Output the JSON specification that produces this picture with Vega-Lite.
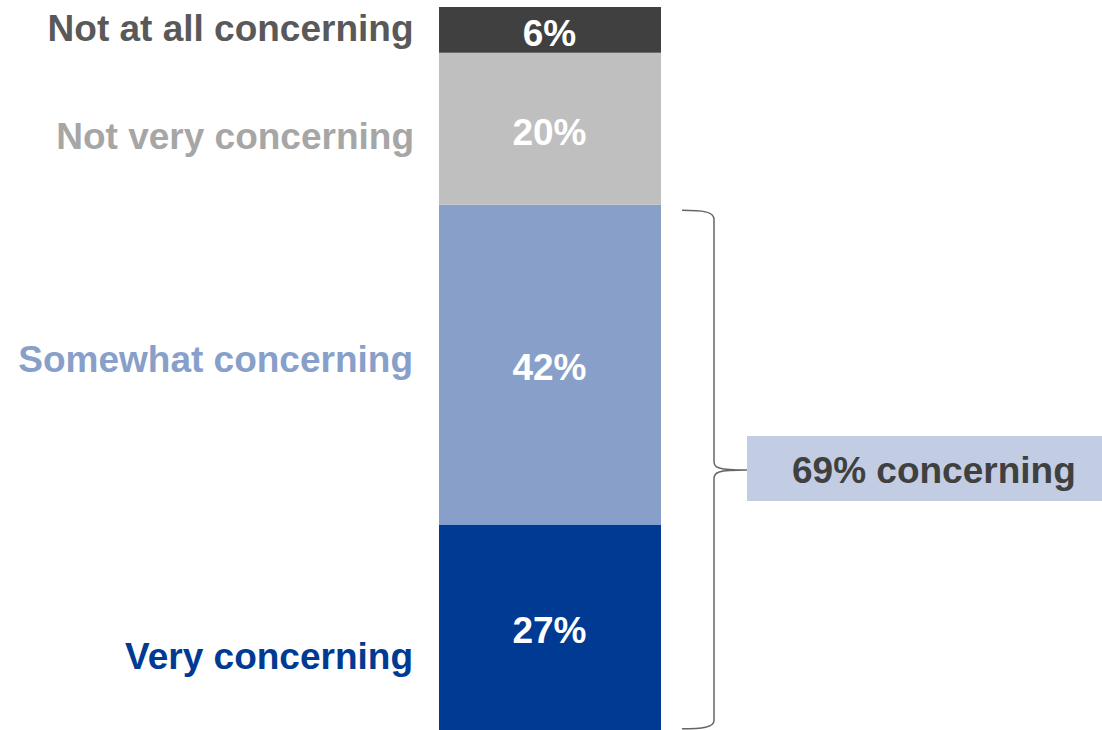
{
  "$schema": "https://vega.github.io/schema/vega-lite/v6.json",
  "width": 1102,
  "height": 730,
  "padding": 0,
  "autosize": {"type": "none"},
  "background": "white",
  "config": {"view": {"stroke": null}, "font": "Liberation Sans"},
  "datasets": {
    "responses": [
      {"category": "Very concerning", "pct": 0.27, "rank": 1},
      {"category": "Somewhat concerning", "pct": 0.42, "rank": 2},
      {"category": "Not very concerning", "pct": 0.20, "rank": 3},
      {"category": "Not at all concerning", "pct": 0.06, "rank": 4}
    ],
    "summary": [
      {"label": "69% concerning", "total": 0.69}
    ]
  },
  "layer": [
    {
      "data": {"name": "responses"},
      "transform": [
        {"stack": "pct", "groupby": [], "sort": [{"field": "rank", "order": "ascending"}], "as": ["y0", "y1"]},
        {"calculate": "(datum.y0 + datum.y1) / 2", "as": "mid"}
      ],
      "layer": [
        {
          "mark": {"type": "bar", "width": 222, "xOffset": -1},
          "encoding": {
            "x": {"datum": "All", "type": "nominal", "scale": {"domain": ["All"]}, "axis": null},
            "y": {"field": "y0", "type": "quantitative", "scale": {"domain": [0, 0.9592], "nice": false, "zero": true}, "axis": null},
            "y2": {"field": "y1"},
            "color": {
              "field": "category", "type": "nominal", "legend": null,
              "scale": {
                "domain": ["Very concerning", "Somewhat concerning", "Not very concerning", "Not at all concerning"],
                "range": ["#003a92", "#88a0c9", "#bfbfbf", "#404040"]
              }
            }
          }
        },
        {
          "mark": {"type": "text", "color": "white", "fontSize": 37, "fontWeight": "bold", "align": "center", "baseline": "middle", "dx": -1.5, "dy": 4.8},
          "encoding": {
            "x": {"datum": "All", "type": "nominal"},
            "y": {"field": "mid", "type": "quantitative"},
            "text": {"field": "pct", "type": "quantitative", "format": ".0%"}
          }
        },
        {
          "transform": [{"filter": "datum.category === 'Not at all concerning'"}],
          "mark": {"type": "text", "color": "#595959", "fontSize": 37, "fontWeight": "bold", "align": "right", "baseline": "middle", "dx": -137.5, "dy": -0.3},
          "encoding": {
            "x": {"datum": "All", "type": "nominal"},
            "y": {"field": "mid", "type": "quantitative"},
            "text": {"field": "category"}
          }
        },
        {
          "transform": [{"filter": "datum.category === 'Not very concerning'"}],
          "mark": {"type": "text", "color": "#a6a6a6", "fontSize": 37, "fontWeight": "bold", "align": "right", "baseline": "middle", "dx": -137, "dy": 9.3},
          "encoding": {
            "x": {"datum": "All", "type": "nominal"},
            "y": {"field": "mid", "type": "quantitative"},
            "text": {"field": "category"}
          }
        },
        {
          "transform": [{"filter": "datum.category === 'Somewhat concerning'"}],
          "mark": {"type": "text", "color": "#88a0c9", "fontSize": 37, "fontWeight": "bold", "align": "right", "baseline": "middle", "dx": -138, "dy": -3.6},
          "encoding": {
            "x": {"datum": "All", "type": "nominal"},
            "y": {"field": "mid", "type": "quantitative"},
            "text": {"field": "category"}
          }
        },
        {
          "transform": [{"filter": "datum.category === 'Very concerning'"}],
          "mark": {"type": "text", "color": "#003a92", "fontSize": 37, "fontWeight": "bold", "align": "right", "baseline": "middle", "dx": -138, "dy": 30.8},
          "encoding": {
            "x": {"datum": "All", "type": "nominal"},
            "y": {"field": "mid", "type": "quantitative"},
            "text": {"field": "category"}
          }
        }
      ]
    },
    {
      "data": {"name": "summary"},
      "layer": [
        {
          "mark": {"type": "point", "shape": "M 33 -31.4 L 400 -31.4 L 400 33.6 L 33 33.6 Z", "size": 4, "filled": true, "color": "#c2cde3", "opacity": 1, "strokeWidth": 0, "xOffset": 163},
          "encoding": {
            "x": {"datum": "All", "type": "nominal"},
            "y": {"datum": 0.345, "type": "quantitative"}
          }
        },
        {
          "mark": {"type": "point", "shape": "M -32 -257.1 C -12 -257.1 0 -256 0 -248 L 0 -6 C 0 0 3 2.6 33 2.6 C 3 2.6 0 5 0 11 L 0 253 C 0 260 -12 261.3 -32 261.3", "size": 4, "filled": false, "color": "#666666", "opacity": 1, "strokeWidth": 1.5, "xOffset": 163},
          "encoding": {
            "x": {"datum": "All", "type": "nominal"},
            "y": {"datum": 0.345, "type": "quantitative"}
          }
        },
        {
          "mark": {"type": "text", "color": "#404040", "fontSize": 37, "fontWeight": "bold", "align": "left", "baseline": "middle", "dx": 241, "dy": 4.7},
          "encoding": {
            "x": {"datum": "All", "type": "nominal"},
            "y": {"datum": 0.345, "type": "quantitative"},
            "text": {"field": "label"}
          }
        }
      ]
    }
  ]
}
